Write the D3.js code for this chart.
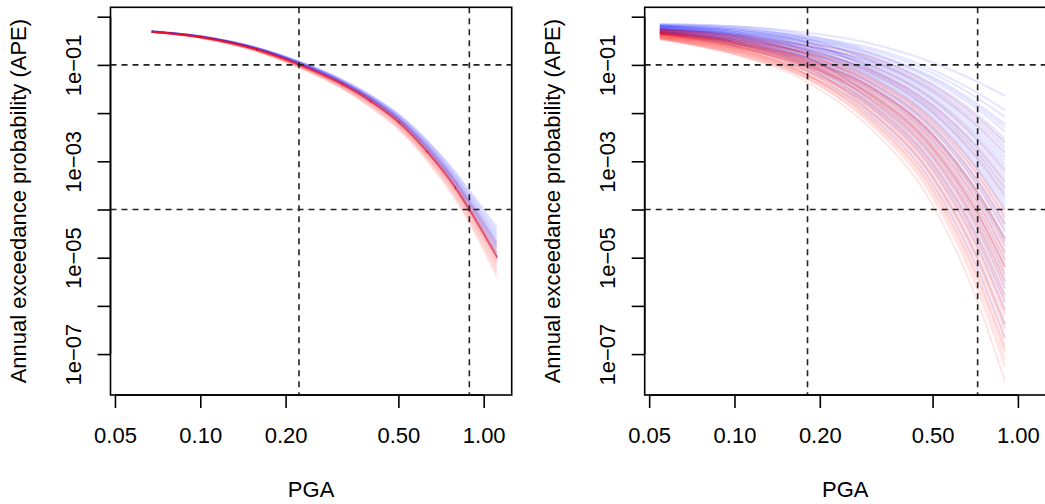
<!DOCTYPE html>
<html>
<head>
<meta charset="utf-8">
<script src="https://cdn.jsdelivr.net/npm/d3@7"></script>
<style>
  html, body { margin: 0; padding: 0; background: #fff; }
  svg { display: block; }
  text { font-family: "Liberation Sans", Arial, Helvetica, sans-serif; fill: #000; }
</style>
</head>
<body>
<svg id="chart" width="1045" height="504"></svg>
<script>
// ---- data -------------------------------------------------------------
// PGA grid (g) at which each hazard curve is tabulated
const pgaLeft = [0.0675, 0.1, 0.158, 0.224, 0.316, 0.398, 0.501, 0.631, 0.794, 0.889, 1.112];
const pgaRight = [0.0545, 0.1, 0.18, 0.3, 0.5, 0.72, 0.9];

// log10 of annual exceedance probability, one row per simulated curve
const leftBlueLogAPE = [
  [-0.30, -0.40, -0.64, -0.93, -1.30, -1.62, -2.02, -2.56, -3.22, -3.60, -4.36],
  [-0.30, -0.40, -0.64, -0.94, -1.31, -1.63, -2.04, -2.58, -3.25, -3.64, -4.42],
  [-0.30, -0.40, -0.65, -0.94, -1.32, -1.65, -2.05, -2.61, -3.29, -3.68, -4.48],
  [-0.30, -0.41, -0.65, -0.95, -1.33, -1.66, -2.07, -2.63, -3.31, -3.71, -4.53],
  [-0.30, -0.41, -0.65, -0.95, -1.34, -1.67, -2.08, -2.64, -3.34, -3.74, -4.58],
  [-0.30, -0.41, -0.66, -0.96, -1.34, -1.68, -2.09, -2.66, -3.36, -3.77, -4.62],
  [-0.31, -0.41, -0.66, -0.97, -1.35, -1.69, -2.11, -2.68, -3.39, -3.80, -4.67],
  [-0.31, -0.41, -0.66, -0.97, -1.36, -1.69, -2.11, -2.69, -3.40, -3.82, -4.70],
  [-0.31, -0.41, -0.66, -0.97, -1.36, -1.70, -2.12, -2.70, -3.42, -3.84, -4.73],
  [-0.31, -0.41, -0.67, -0.98, -1.37, -1.70, -2.13, -2.72, -3.43, -3.86, -4.76],
  [-0.31, -0.41, -0.67, -0.98, -1.37, -1.71, -2.14, -2.73, -3.45, -3.88, -4.79],
  [-0.31, -0.42, -0.67, -0.98, -1.38, -1.72, -2.15, -2.75, -3.48, -3.91, -4.84],
  [-0.31, -0.42, -0.67, -0.99, -1.39, -1.73, -2.16, -2.76, -3.50, -3.94, -4.89],
  [-0.31, -0.42, -0.68, -0.99, -1.39, -1.74, -2.18, -2.78, -3.52, -3.97, -4.93],
  [-0.31, -0.42, -0.68, -1.00, -1.40, -1.75, -2.19, -2.80, -3.55, -4.00, -4.98]
];
const leftRedLogAPE = [
  [-0.31, -0.41, -0.66, -0.97, -1.36, -1.69, -2.11, -2.69, -3.40, -3.82, -4.70],
  [-0.31, -0.41, -0.67, -0.98, -1.37, -1.71, -2.14, -2.73, -3.45, -3.88, -4.79],
  [-0.31, -0.42, -0.67, -0.99, -1.38, -1.73, -2.16, -2.76, -3.49, -3.93, -4.87],
  [-0.31, -0.42, -0.68, -0.99, -1.39, -1.74, -2.17, -2.78, -3.52, -3.96, -4.92],
  [-0.31, -0.42, -0.68, -1.00, -1.40, -1.74, -2.18, -2.79, -3.53, -3.98, -4.95],
  [-0.31, -0.42, -0.68, -1.00, -1.40, -1.75, -2.19, -2.80, -3.55, -4.00, -4.98],
  [-0.31, -0.42, -0.68, -1.00, -1.40, -1.76, -2.20, -2.81, -3.56, -4.01, -5.00],
  [-0.31, -0.42, -0.68, -1.01, -1.41, -1.76, -2.21, -2.82, -3.57, -4.03, -5.02],
  [-0.31, -0.42, -0.69, -1.01, -1.42, -1.77, -2.22, -2.84, -3.60, -4.05, -5.06],
  [-0.31, -0.43, -0.69, -1.02, -1.43, -1.79, -2.24, -2.86, -3.62, -4.08, -5.10],
  [-0.31, -0.43, -0.70, -1.02, -1.44, -1.80, -2.25, -2.88, -3.65, -4.11, -5.14],
  [-0.32, -0.43, -0.70, -1.03, -1.45, -1.81, -2.27, -2.90, -3.67, -4.14, -5.19],
  [-0.32, -0.43, -0.71, -1.04, -1.46, -1.83, -2.29, -2.92, -3.71, -4.18, -5.25],
  [-0.32, -0.44, -0.71, -1.05, -1.47, -1.85, -2.31, -2.95, -3.74, -4.22, -5.31],
  [-0.32, -0.44, -0.72, -1.06, -1.49, -1.87, -2.34, -2.99, -3.79, -4.27, -5.39]
];
const leftMeanLogAPE = [-0.31, -0.42, -0.68, -1.00, -1.40, -1.75, -2.19, -2.80, -3.55, -4.00, -4.98];

const rightBlueLogAPE = [
  [-0.15, -0.20, -0.33, -0.55, -0.95, -1.35, -1.64],
  [-0.18, -0.26, -0.41, -0.64, -1.10, -1.58, -1.94],
  [-0.20, -0.29, -0.45, -0.68, -1.17, -1.69, -2.08],
  [-0.15, -0.20, -0.38, -0.73, -1.25, -1.81, -2.23],
  [-0.21, -0.32, -0.48, -0.75, -1.28, -1.86, -2.30],
  [-0.17, -0.23, -0.42, -0.77, -1.32, -1.92, -2.38],
  [-0.18, -0.26, -0.46, -0.81, -1.39, -2.03, -2.53],
  [-0.23, -0.35, -0.53, -0.83, -1.42, -2.08, -2.60],
  [-0.20, -0.29, -0.50, -0.86, -1.47, -2.15, -2.68],
  [-0.17, -0.23, -0.46, -0.90, -1.54, -2.26, -2.82],
  [-0.21, -0.32, -0.53, -0.88, -1.50, -2.20, -2.74],
  [-0.26, -0.40, -0.61, -0.92, -1.57, -2.31, -2.90],
  [-0.25, -0.37, -0.60, -0.94, -1.61, -2.37, -2.97],
  [-0.20, -0.29, -0.53, -0.99, -1.69, -2.49, -3.12],
  [-0.25, -0.37, -0.61, -0.97, -1.66, -2.44, -3.05],
  [-0.28, -0.43, -0.66, -1.01, -1.72, -2.54, -3.19],
  [-0.21, -0.32, -0.57, -1.03, -1.76, -2.60, -3.27],
  [-0.18, -0.26, -0.53, -1.08, -1.84, -2.72, -3.42],
  [-0.23, -0.35, -0.61, -1.06, -1.81, -2.67, -3.35],
  [-0.29, -0.46, -0.71, -1.10, -1.87, -2.77, -3.49],
  [-0.26, -0.40, -0.67, -1.12, -1.91, -2.83, -3.56],
  [-0.21, -0.32, -0.61, -1.16, -1.98, -2.94, -3.71],
  [-0.26, -0.40, -0.69, -1.14, -1.95, -2.89, -3.64],
  [-0.31, -0.49, -0.76, -1.18, -2.01, -2.99, -3.78],
  [-0.23, -0.35, -0.65, -1.21, -2.06, -3.06, -3.86],
  [-0.25, -0.37, -0.69, -1.25, -2.13, -3.17, -4.01],
  [-0.29, -0.46, -0.76, -1.23, -2.10, -3.12, -3.94],
  [-0.28, -0.43, -0.75, -1.29, -2.20, -3.28, -4.16],
  [-0.25, -0.37, -0.71, -1.34, -2.28, -3.40, -4.30],
  [-0.33, -0.52, -0.84, -1.36, -2.31, -3.45, -4.37],
  [-0.26, -0.40, -0.76, -1.38, -2.35, -3.51, -4.45],
  [-0.28, -0.43, -0.79, -1.43, -2.43, -3.63, -4.60],
  [-0.34, -0.55, -0.89, -1.45, -2.46, -3.68, -4.67],
  [-0.31, -0.49, -0.85, -1.47, -2.50, -3.74, -4.75],
  [-0.29, -0.46, -0.84, -1.51, -2.57, -3.85, -4.90],
  [-0.29, -0.46, -0.86, -1.56, -2.65, -3.97, -5.04],
  [-0.31, -0.49, -0.89, -1.60, -2.72, -4.08, -5.19],
  [-0.26, -0.40, -0.83, -1.64, -2.79, -4.19, -5.34],
  [-0.33, -0.52, -0.94, -1.69, -2.87, -4.31, -5.49],
  [-0.31, -0.49, -0.93, -1.73, -2.94, -4.42, -5.64],
  [-0.34, -0.55, -0.99, -1.78, -3.02, -4.54, -5.78],
  [-0.33, -0.52, -0.98, -1.82, -3.09, -4.65, -5.93],
  [-0.36, -0.58, -1.04, -1.86, -3.16, -4.76, -6.08],
  [-0.34, -0.55, -1.04, -1.95, -3.31, -4.99, -6.38],
  [-0.37, -0.61, -1.12, -2.04, -3.46, -5.22, -6.67]
];
const rightRedLogAPE = [
  [-0.25, -0.37, -0.56, -0.83, -1.43, -2.09, -2.61],
  [-0.26, -0.40, -0.61, -0.90, -1.54, -2.26, -2.82],
  [-0.28, -0.43, -0.66, -1.01, -1.72, -2.55, -3.20],
  [-0.29, -0.46, -0.71, -1.08, -1.84, -2.72, -3.42],
  [-0.31, -0.49, -0.75, -1.12, -1.91, -2.83, -3.56],
  [-0.31, -0.49, -0.76, -1.16, -1.98, -2.94, -3.71],
  [-0.33, -0.52, -0.81, -1.25, -2.13, -3.17, -4.01],
  [-0.26, -0.40, -0.71, -1.27, -2.16, -3.22, -4.08],
  [-0.34, -0.55, -0.85, -1.29, -2.20, -3.28, -4.16],
  [-0.34, -0.55, -0.87, -1.34, -2.28, -3.40, -4.30],
  [-0.29, -0.46, -0.79, -1.32, -2.25, -3.36, -4.24],
  [-0.28, -0.43, -0.78, -1.38, -2.35, -3.51, -4.45],
  [-0.33, -0.52, -0.87, -1.43, -2.43, -3.63, -4.60],
  [-0.36, -0.58, -0.92, -1.43, -2.43, -3.63, -4.60],
  [-0.28, -0.43, -0.79, -1.45, -2.46, -3.68, -4.66],
  [-0.36, -0.58, -0.93, -1.47, -2.50, -3.74, -4.75],
  [-0.37, -0.61, -0.97, -1.51, -2.57, -3.85, -4.90],
  [-0.31, -0.49, -0.87, -1.53, -2.60, -3.90, -4.96],
  [-0.34, -0.55, -0.92, -1.49, -2.54, -3.81, -4.84],
  [-0.33, -0.52, -0.90, -1.56, -2.65, -3.97, -5.04],
  [-0.39, -0.64, -1.02, -1.60, -2.72, -4.08, -5.19],
  [-0.37, -0.61, -0.99, -1.60, -2.72, -4.08, -5.19],
  [-0.33, -0.52, -0.92, -1.62, -2.75, -4.13, -5.26],
  [-0.36, -0.58, -0.97, -1.58, -2.69, -4.03, -5.12],
  [-0.39, -0.64, -1.03, -1.64, -2.79, -4.19, -5.34],
  [-0.41, -0.66, -1.07, -1.69, -2.87, -4.31, -5.49],
  [-0.34, -0.55, -0.97, -1.71, -2.90, -4.36, -5.56],
  [-0.37, -0.61, -1.02, -1.67, -2.84, -4.26, -5.42],
  [-0.34, -0.55, -0.98, -1.73, -2.94, -4.42, -5.64],
  [-0.42, -0.69, -1.12, -1.78, -3.02, -4.54, -5.78],
  [-0.36, -0.58, -1.02, -1.80, -3.05, -4.59, -5.85],
  [-0.42, -0.69, -1.13, -1.82, -3.09, -4.65, -5.93],
  [-0.44, -0.72, -1.17, -1.86, -3.16, -4.76, -6.08],
  [-0.37, -0.61, -1.07, -1.88, -3.19, -4.81, -6.15],
  [-0.37, -0.61, -1.08, -1.91, -3.24, -4.88, -6.23],
  [-0.45, -0.75, -1.22, -1.95, -3.31, -4.99, -6.38],
  [-0.39, -0.64, -1.12, -1.97, -3.34, -5.04, -6.45],
  [-0.44, -0.72, -1.21, -1.99, -3.38, -5.10, -6.52],
  [-0.47, -0.78, -1.27, -2.04, -3.46, -5.22, -6.67],
  [-0.41, -0.66, -1.18, -2.08, -3.53, -5.33, -6.82],
  [-0.41, -0.66, -1.20, -2.11, -3.58, -5.40, -6.90],
  [-0.42, -0.69, -1.22, -2.13, -3.61, -5.45, -6.97],
  [-0.45, -0.75, -1.29, -2.17, -3.68, -5.56, -7.12],
  [-0.44, -0.72, -1.27, -2.21, -3.75, -5.67, -7.26],
  [-0.47, -0.78, -1.35, -2.30, -3.90, -5.90, -7.56]
];

// design levels marked by dashed guide lines
const leftPgaLevels = [0.223, 0.89];
const rightPgaLevels = [0.181, 0.721];
const apeLevels = [1e-1, 1e-4];

// axis ticks
const xTickValues = [0.05, 0.1, 0.2, 0.5, 1.0];
const xTickLabels = ["0.05", "0.10", "0.20", "0.50", "1.00"];
const yTickValues = [1e0, 1e-1, 1e-2, 1e-3, 1e-4, 1e-5, 1e-6, 1e-7];
const yTickLabels = ["", "1e\u221201", "", "1e\u221203", "", "1e\u221205", "", "1e\u221207"];

const xTitle = "PGA";
const yTitle = "Annual exceedance probability (APE)";

// ---- layout -------------------------------------------------------------
const svg = d3.select("#chart");
const plotW = 401.2, plotTop = 7.3, plotBottom = 395;
const xDomain = [0.04822, 1.2555];
const yDomain = [1.416e-8, 1.567];
const FONT = 22;

const blueLine = "rgba(0,0,255,0.10)";
const redLine = "rgba(255,0,0,0.10)";

function panel(left, opts) {
  const g = svg.append("g");
  const x = d3.scaleLog().domain(xDomain).range([left, left + plotW]);
  const y = d3.scaleLog().domain(yDomain).range([plotBottom, plotTop]);

  const clipId = "clip" + Math.round(left);
  svg.append("clipPath").attr("id", clipId)
    .append("rect").attr("x", left).attr("y", plotTop)
    .attr("width", plotW).attr("height", plotBottom - plotTop);

  const curves = g.append("g").attr("clip-path", `url(#${clipId})`);
  const line = pga => d3.line()
    .x((d, i) => x(pga[i]))
    .y(d => y(Math.pow(10, d)))
    .curve(d3.curveMonotoneX);

  // simulated curves: blue set, then red set
  curves.selectAll("path.blue").data(opts.blue).join("path")
    .attr("class", "blue")
    .attr("d", line(opts.pga))
    .attr("fill", "none").attr("stroke", blueLine).attr("stroke-width", 2);
  curves.selectAll("path.red").data(opts.red).join("path")
    .attr("class", "red")
    .attr("d", line(opts.pga))
    .attr("fill", "none").attr("stroke", redLine).attr("stroke-width", 2);

  if (opts.mean) {
    curves.append("path")
      .attr("d", line(opts.pga)(opts.mean))
      .attr("fill", "none").attr("stroke", "rgba(235,30,50,0.55)").attr("stroke-width", 1.6);
    curves.selectAll("line.mk").data(opts.mean).join("line")
      .attr("class", "mk")
      .attr("x1", (d, i) => x(opts.pga[i])).attr("x2", (d, i) => x(opts.pga[i]))
      .attr("y1", d => y(Math.pow(10, d)) - 1.5).attr("y2", d => y(Math.pow(10, d)) + 1.5)
      .attr("stroke", "rgba(200,0,30,0.7)").attr("stroke-width", 1);
  }

  // dashed guide lines
  const guides = g.append("g").attr("clip-path", `url(#${clipId})`)
    .attr("stroke", "#222").attr("stroke-width", 1.6).attr("stroke-dasharray", "6,5");
  guides.selectAll("line.h").data(apeLevels).join("line")
    .attr("class", "h")
    .attr("x1", left).attr("x2", left + plotW)
    .attr("y1", d => y(d)).attr("y2", d => y(d));
  guides.selectAll("line.v").data(opts.levels).join("line")
    .attr("class", "v")
    .attr("x1", d => x(d)).attr("x2", d => x(d))
    .attr("y1", plotTop).attr("y2", plotBottom);

  // frame
  g.append("rect")
    .attr("x", left).attr("y", plotTop)
    .attr("width", plotW).attr("height", plotBottom - plotTop)
    .attr("fill", "none").attr("stroke", "#000").attr("stroke-width", 1.6);

  // x axis
  const xAxis = d3.axisBottom(x).tickValues(xTickValues)
    .tickFormat((d, i) => xTickLabels[i]).tickSize(13).tickPadding(0);
  const xa = g.append("g").attr("transform", `translate(0,${plotBottom})`).call(xAxis);
  xa.select(".domain")
    .attr("d", `M${x(xTickValues[0])},0H${x(xTickValues[xTickValues.length - 1])}`)
    .attr("stroke-width", 1.6);
  xa.selectAll(".tick line").attr("stroke-width", 1.6);
  xa.selectAll(".tick text")
    .attr("font-size", FONT).attr("font-family", null)
    .attr("y", 48).attr("dy", null);

  // y axis
  const yAxis = d3.axisLeft(y).tickValues(yTickValues)
    .tickFormat((d, i) => yTickLabels[i]).tickSize(13).tickPadding(0);
  const ya = g.append("g").attr("transform", `translate(${left},0)`).call(yAxis);
  ya.select(".domain")
    .attr("d", `M0,${y(yTickValues[0])}V${y(yTickValues[yTickValues.length - 1])}`)
    .attr("stroke-width", 1.6);
  ya.selectAll(".tick line").attr("stroke-width", 1.6);
  ya.selectAll(".tick text")
    .attr("font-size", FONT).attr("font-family", null)
    .attr("x", null).attr("dy", null)
    .attr("text-anchor", "middle")
    .attr("transform", "translate(-30,0) rotate(-90)");

  // axis titles
  g.append("text")
    .attr("x", left + plotW / 2).attr("y", 497)
    .attr("text-anchor", "middle").attr("font-size", FONT)
    .text(xTitle);
  g.append("text")
    .attr("transform", `translate(${left - 85},${(plotTop + plotBottom) / 2}) rotate(-90)`)
    .attr("text-anchor", "middle").attr("font-size", FONT)
    .text(yTitle);
}

panel(110.5, {
  pga: pgaLeft, blue: leftBlueLogAPE, red: leftRedLogAPE,
  mean: leftMeanLogAPE, levels: leftPgaLevels
});
panel(644.7, {
  pga: pgaRight, blue: rightBlueLogAPE, red: rightRedLogAPE,
  levels: rightPgaLevels
});
</script>
</body>
</html>
